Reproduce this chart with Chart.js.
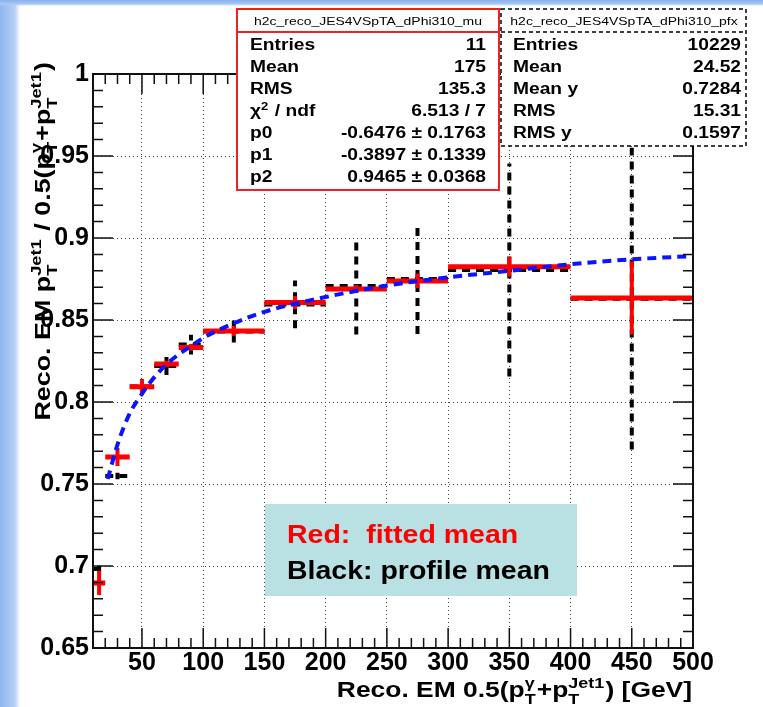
<!DOCTYPE html>
<html>
<head>
<meta charset="utf-8">
<script src="https://cdn.jsdelivr.net/npm/chart.js@4.4.0/dist/chart.umd.min.js"></script>
<style>
  html, body { margin: 0; padding: 0; background: #fff; }
  #wrap {
    position: relative; width: 763px; height: 707px; overflow: hidden;
    background:
      linear-gradient(to bottom, #86b0ec 0px, #a8c7f3 4px, rgba(255,255,255,0) 6px),
      linear-gradient(to right, #8fb6ee 0px, #b7d1f6 15px, #ffffff 20px);
  }
  canvas { display: block; }
</style>
</head>
<body>
<div id="wrap"><canvas id="c" width="763" height="707"></canvas></div>
<script>
// bins (GeV)
const binLo  = [10, 20, 40, 60, 80, 100, 150, 200, 250, 300, 400];
const binHi  = [20, 40, 60, 80, 100, 150, 200, 250, 300, 400, 500];
const binMid = [15, 30, 50, 70, 90, 125, 175, 225, 275, 350, 450];

// red: fitted mean
const fitMean = [0.6896, 0.7665, 0.8093, 0.8232, 0.8333, 0.8433, 0.8606, 0.8689, 0.8738, 0.8825, 0.8634];
const fitErr  = [0.0073, 0.0055, 0.0047, 0.0020, 0.0020, 0.0030, 0.0040, 0.0025, 0.0045, 0.0060, 0.0223];

// black: profile mean
const profMean = [0.6982, 0.7549, 0.8095, 0.8220, 0.8350, 0.8430, 0.8595, 0.8707, 0.8750, 0.8805, 0.8630];
const profErr  = [0.0020, 0.0020, 0.0040, 0.0055, 0.0060, 0.0067, 0.0146, 0.0296, 0.0335, 0.0650, 0.0920];

// blue dashed fit curve
const curveX = [22, 30, 40, 50, 60, 70, 80, 90, 100, 125, 150, 200, 250, 300, 350, 400, 450, 500];
const curveY = [0.753, 0.774, 0.793, 0.805, 0.815, 0.823, 0.829, 0.834, 0.839, 0.848, 0.855, 0.864, 0.871, 0.876, 0.880, 0.884, 0.887, 0.889];

const xTicks = [50, 100, 150, 200, 250, 300, 350, 400, 450, 500];
const xTickLabels = ['50', '100', '150', '200', '250', '300', '350', '400', '450', '500'];
const yTicks = [0.65, 0.7, 0.75, 0.8, 0.85, 0.9, 0.95, 1];
const yTickLabels = ['0.65', '0.7', '0.75', '0.8', '0.85', '0.9', '0.95', '1'];

// stat boxes
const muTitle = 'h2c_reco_JES4VSpTA_dPhi310_mu';
const muLabels = [['Entries'], ['Mean'], ['RMS'], ['\u03c7', {sup: '2'}, ' / ndf'], ['p0'], ['p1'], ['p2']];
const muValues = ['11', '175', '135.3', '6.513 / 7', '-0.6476 \u00b1 0.1763', '-0.3897 \u00b1 0.1339', '0.9465 \u00b1 0.0368'];
const pfxTitle = 'h2c_reco_JES4VSpTA_dPhi310_pfx';
const pfxLabels = [['Entries'], ['Mean'], ['Mean y'], ['RMS'], ['RMS y']];
const pfxValues = ['10229', '24.52', '0.7284', '15.31', '0.1597'];

const xTitle = ['Reco. EM 0.5(p', {sub: 'T', sup: '\u03b3'}, '+p', {sub: 'T', sup: 'Jet1'}, ') [GeV]'];
const yTitle = ['Reco. EM p', {sub: 'T', sup: 'Jet1'}, ' / 0.5(p', {sub: 'T', sup: '\u03b3'}, '+p', {sub: 'T', sup: 'Jet1'}, ')'];

const FAM = "'Liberation Sans', Arial, Helvetica, sans-serif";

function hSegs(lo, hi, m) {
    const pts = [];
    lo.forEach((l, i) => pts.push({x: l, y: m[i]}, {x: hi[i], y: m[i]}, {x: hi[i], y: null}));
    return pts;
}

function vSegs(c, m, e) {
    const pts = [];
    c.forEach((x, i) => pts.push({x: x, y: m[i] - e[i]}, {x: x, y: m[i] + e[i]}, {x: x, y: null}));
    return pts;
}

function runsWidth(ctx, runs, F, weight) {
    let w = 0;
    runs.forEach(r => {
        if (typeof r === 'string') {
            ctx.font = `${weight} ${F}px ${FAM}`;
            w += ctx.measureText(r).width;
        } else {
            ctx.font = `${weight} ${F * 0.68}px ${FAM}`;
            w += Math.max(r.sub ? ctx.measureText(r.sub).width : 0, r.sup ? ctx.measureText(r.sup).width : 0) + 1;
        }
    });
    return w;
}

// draws text runs (with sub/superscripts) stretched by sx, align left/right/center at x
function drawRuns(ctx, runs, x, y, F, sx, align, weight) {
    weight = weight || 'bold';
    const w = runsWidth(ctx, runs, F, weight) * sx;
    const x0 = align === 'right' ? x - w : align === 'center' ? x - w / 2 : x;
    ctx.save();
    ctx.translate(x0, y);
    ctx.scale(sx, 1);
    ctx.textAlign = 'left';
    ctx.textBaseline = 'alphabetic';
    let cx = 0;
    runs.forEach(r => {
        if (typeof r === 'string') {
            ctx.font = `${weight} ${F}px ${FAM}`;
            ctx.fillText(r, cx, 0);
            cx += ctx.measureText(r).width;
        } else {
            ctx.font = `${weight} ${F * 0.68}px ${FAM}`;
            let ww = 0;
            if (r.sub) { ctx.fillText(r.sub, cx, F * 0.3); ww = Math.max(ww, ctx.measureText(r.sub).width); }
            if (r.sup) { ctx.fillText(r.sup, cx, -F * 0.4); ww = Math.max(ww, ctx.measureText(r.sup).width); }
            cx += ww + 1;
        }
    });
    ctx.restore();
}

const frame = {
    id: 'frame',
    afterDatasetsDraw(chart) {
        const {ctx, chartArea: a, scales: {x, y}} = chart;
        ctx.save();
        ctx.strokeStyle = '#111';
        ctx.lineWidth = 1.5;
        ctx.beginPath();
        for (let v = 20; v < 500; v += 10) {
            const px = x.getPixelForValue(v);
            const len = v % 50 === 0 ? 20 : 10;
            ctx.moveTo(px, a.bottom); ctx.lineTo(px, a.bottom - len);
            ctx.moveTo(px, a.top); ctx.lineTo(px, a.top + len);
        }
        for (let i = 66; i < 100; i++) {
            const py = y.getPixelForValue(i / 100);
            const len = i % 5 === 0 ? 20 : 10;
            ctx.moveTo(a.left, py); ctx.lineTo(a.left + len, py);
            ctx.moveTo(a.right, py); ctx.lineTo(a.right - len, py);
        }
        ctx.stroke();
        ctx.lineWidth = 2;
        ctx.strokeRect(a.left, a.top, a.right - a.left, a.bottom - a.top);
        ctx.restore();
    },
    afterDraw(chart) {
        const ctx = chart.ctx;
        ctx.save();

        // fitted-mean stat box
        ctx.fillStyle = '#fff';
        ctx.fillRect(237, 9, 262, 181);
        ctx.strokeStyle = '#ee2222';
        ctx.lineWidth = 2;
        ctx.strokeRect(237, 9, 262, 181);
        ctx.beginPath(); ctx.moveTo(237, 32); ctx.lineTo(499, 32); ctx.stroke();
        ctx.fillStyle = '#000';
        drawRuns(ctx, [muTitle], 368, 25, 11, 1.27, 'center', 'normal');
        muLabels.forEach((l, i) => {
            drawRuns(ctx, l, 250, 50 + i * 22, 16, 1.2, 'left');
            drawRuns(ctx, [muValues[i]], 486, 50 + i * 22, 16, 1.2, 'right');
        });

        // profile stat box
        ctx.fillStyle = '#fff';
        ctx.fillRect(501, 9, 245, 137);
        ctx.strokeStyle = '#000';
        ctx.lineWidth = 1.5;
        ctx.setLineDash([4, 3]);
        ctx.strokeRect(501, 9, 245, 137);
        ctx.beginPath(); ctx.moveTo(501, 32); ctx.lineTo(746, 32); ctx.stroke();
        ctx.setLineDash([]);
        ctx.fillStyle = '#000';
        drawRuns(ctx, [pfxTitle], 624, 25, 11, 1.27, 'center', 'normal');
        pfxLabels.forEach((l, i) => {
            drawRuns(ctx, l, 513, 50 + i * 22, 16, 1.2, 'left');
            drawRuns(ctx, [pfxValues[i]], 741, 50 + i * 22, 16, 1.2, 'right');
        });

        // colour key
        ctx.fillStyle = '#b9e0e3';
        ctx.fillRect(265, 504, 312, 92);
        ctx.fillStyle = '#ff0000';
        drawRuns(ctx, ['Red:  fitted mean'], 287, 543, 25, 1.14, 'left');
        ctx.fillStyle = '#000';
        drawRuns(ctx, ['Black: profile mean'], 287, 579, 25, 1.14, 'left');

        // axis titles
        drawRuns(ctx, xTitle, 692, 697, 22, 1.2, 'right');
        ctx.save();
        ctx.translate(50, 62);
        ctx.rotate(-Math.PI / 2);
        drawRuns(ctx, yTitle, 0, 0, 22, 1.22, 'right');
        ctx.restore();

        ctx.restore();
    }
};

const tickFont = {family: FAM, size: 25, weight: 'bold'};

new Chart(document.getElementById('c'), {
    type: 'scatter',
    data: {
        datasets: [
            {data: curveX.map((x, i) => ({x: x, y: curveY[i]})), showLine: true, borderColor: '#0a14ff',
             borderWidth: 4, borderDash: [9, 6], pointRadius: 0, cubicInterpolationMode: 'monotone'},
            {data: vSegs(binMid, fitMean, fitErr), showLine: true, borderColor: '#ff0000', borderWidth: 4, pointRadius: 0},
            {data: hSegs(binLo, binHi, fitMean), showLine: true, borderColor: '#ff0000', borderWidth: 5, pointRadius: 0},
            {data: vSegs(binMid, profMean, profErr), showLine: true, borderColor: '#000', borderWidth: 4,
             borderDash: [8, 6], pointRadius: 0},
            {data: hSegs(binLo, binHi, profMean), showLine: true, borderColor: '#000', borderWidth: 4,
             borderDash: [8, 6], pointRadius: 0}
        ]
    },
    options: {
        responsive: false,
        animation: false,
        devicePixelRatio: 1,
        events: [],
        layout: {padding: {top: 74, right: 70, left: 0, bottom: 0}},
        plugins: {legend: {display: false}, tooltip: {enabled: false}},
        scales: {
            x: {
                type: 'linear', min: 10, max: 500,
                afterBuildTicks: s => { s.ticks = xTicks.map(v => ({value: v})); },
                afterFit: s => { s.height = 59; },
                ticks: {callback: v => xTickLabels[xTicks.indexOf(v)], padding: 0, font: tickFont,
                        color: '#000', maxRotation: 0, autoSkip: false},
                grid: {color: '#444', lineWidth: 1, drawTicks: false},
                border: {display: false, dash: [1, 3]}
            },
            y: {
                type: 'linear', min: 0.65, max: 1,
                afterBuildTicks: s => { s.ticks = yTicks.map(v => ({value: v})); },
                afterFit: s => { s.width = 93; },
                ticks: {callback: v => yTickLabels[yTicks.indexOf(v)], padding: 4, font: tickFont,
                        color: '#000', autoSkip: false},
                grid: {color: '#444', lineWidth: 1, drawTicks: false},
                border: {display: false, dash: [1, 3]}
            }
        }
    },
    plugins: [frame]
});
</script>
</body>
</html>
